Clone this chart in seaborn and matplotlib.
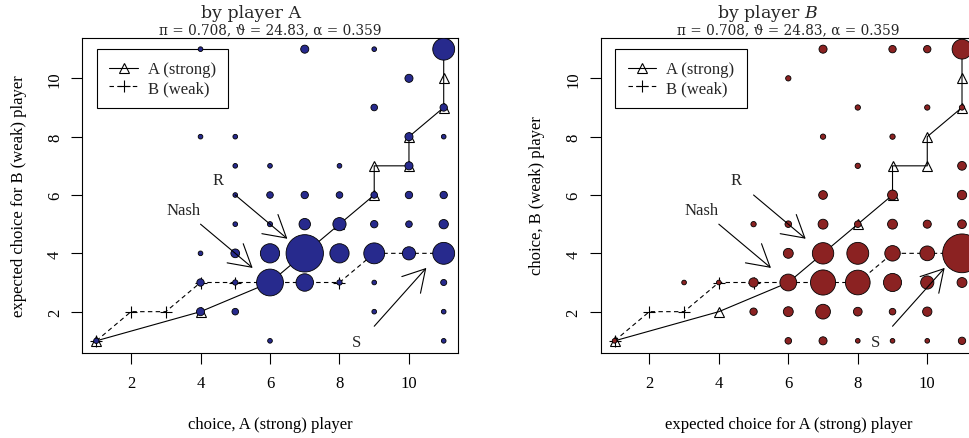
import numpy as np
import pandas as pd
import matplotlib
matplotlib.use("Agg")
import matplotlib.pyplot as plt
import seaborn as sns

sns.set_theme(style="ticks")
plt.rcParams['font.family'] = ['Liberation Serif', 'DejaVu Serif']
plt.rcParams['mathtext.fontset'] = 'dejavuserif'

# ---------------- data ----------------
# left panel (by player A): choice of A (x), expected choice for B (y), frequency
left_x = [4, 7, 9, 11,
          10,
          9, 11,
          4, 5, 10, 11,
          5, 6, 8, 10,
          5, 6, 7, 8, 9, 10, 11,
          5, 6, 7, 8, 9, 10, 11,
          4, 5, 6, 7, 8, 9, 10, 11,
          4, 5, 6, 7, 8, 9, 11,
          4, 5, 9, 11,
          1, 6, 11]
left_y = [11, 11, 11, 11,
          10,
          9, 9,
          8, 8, 8, 8,
          7, 7, 7, 7,
          6, 6, 6, 6, 6, 6, 6,
          5, 5, 5, 5, 5, 5, 5,
          4, 4, 4, 4, 4, 4, 4, 4,
          3, 3, 3, 3, 3, 3, 3,
          2, 2, 2, 2,
          1, 1, 1]
left_n = [1, 3, 1, 22,
          3,
          2, 2.5,
          1, 1, 3, 1,
          1, 1, 1, 3,
          1, 2, 2.5, 2, 2, 2.5, 2.5,
          1, 1.2, 6, 8, 2.5, 2, 4,
          1, 3.5, 17, 64, 17, 20, 8, 22,
          2.5, 1.3, 33, 14, 1.3, 1, 1.7,
          3, 2, 1, 1,
          1.3, 1, 1]

# right panel (by player B): expected choice for A (x), choice of B (y), frequency
right_x = [7, 9, 10, 11,
           6,
           8, 10, 11,
           7, 9,
           8, 11,
           7, 9, 11,
           5, 6, 7, 8, 9, 10, 11,
           6, 7, 8, 9, 10, 11,
           3, 4, 5, 6, 7, 8, 9, 10, 11,
           5, 6, 7, 8, 9, 10,
           1, 6, 7, 8, 9, 10, 11]
right_y = [11, 11, 11, 11,
           10,
           9, 9, 9,
           8, 8,
           7, 7,
           6, 6, 6,
           5, 5, 5, 5, 5, 5, 5,
           4, 4, 4, 4, 4, 4,
           3, 3, 3, 3, 3, 3, 3, 3, 3,
           2, 2, 2, 2, 2, 2,
           1, 1, 1, 1, 1, 1, 1]
right_n = [3, 2.5, 2.5, 18,
           1.3,
           1.3, 1.3, 1.3,
           1.3, 1.3,
           1.3, 3.5,
           3.5, 4.5, 4,
           1.3, 2, 4.5, 2, 4.5, 3, 3.5,
           4.5, 21, 22, 11, 10, 69,
           1, 1, 4, 13, 29, 28, 15, 8, 4.5,
           2.5, 4.5, 10, 3.5, 2, 4,
           1, 2, 3, 1, 1, 1, 2.5]

# best-response lines
lineA_x = [1, 4, 6, 7, 8, 9, 9, 10, 10, 11, 11, 11]
lineA_y = [1, 2, 3, 4, 5, 6, 7, 7, 8, 9, 10, 11]
lineB_x = [1, 2, 3, 4, 5, 6, 7, 8, 9, 10, 11]
lineB_y = [1, 2, 2, 3, 3, 3, 3, 3, 4, 4, 4]

ticks = [2, 4, 6, 8, 10]
subtitle = r"π = 0.708, ϑ = 24.83, α = 0.359"
annot_labels = ["R", "Nash", "S"]
annot_text_xy = [(4.5, 6.5), (3.5, 5.5), (8.5, 0.95)]
annot_from = [(5, 6), (4, 5), (9, 1.5)]
annot_to = [(6.5, 4.5), (5.5, 3.5), (10.5, 3.5)]

# ---------------- figure ----------------
W, H = 970, 439
fig = plt.figure(figsize=(W / 100, H / 100), dpi=100)
axL = fig.add_axes([82.4 / W, 1 - 353.5 / H, 375.2 / W, 315 / H])
axR = fig.add_axes([600.7 / W, 1 - 353.5 / H, 375.2 / W, 315 / H])

NMAX = 70
SMAX = 11.3 * NMAX

panels = [
    (axL, left_x, left_y, left_n, "#272a8d",
     "choice, A (strong) player", "expected choice for B (weak) player"),
    (axR, right_x, right_y, right_n, "#8b2222",
     "expected choice for A (strong) player", "choice, B (weak) player"),
]

for ax, xs, ys, ns, col, xl, yl in panels:
    df = pd.DataFrame({"x": xs, "y": ys, "n": ns})
    sns.scatterplot(data=df, x="x", y="y", size="n", sizes=(0, SMAX),
                    size_norm=(0, NMAX), color=col, edgecolor="black",
                    linewidth=0.6, legend=False, ax=ax, zorder=3)
    ax.plot(lineA_x, lineA_y, color="black", lw=0.8, marker="^", ms=7.5,
            mfc="none", mec="black", mew=0.8, zorder=2, label="A (strong)")
    ax.plot(lineB_x, lineB_y, color="black", lw=0.8, ls=(0, (4, 3)),
            marker="+", ms=8, mew=0.8, zorder=2, label="B (weak)")
    for lab, txy, a0, a1 in zip(annot_labels, annot_text_xy, annot_from, annot_to):
        ax.text(txy[0], txy[1], lab, ha="center", va="center", fontsize=12,
                zorder=4)
        ax.annotate("", xy=a1, xytext=a0,
                    arrowprops=dict(arrowstyle="->,head_length=1.56,head_width=0.9",
                                    lw=0.8, color="black", mutation_scale=10,
                                    shrinkA=0, shrinkB=0), zorder=4)
    ax.set_xlim(0.6, 11.4)
    ax.set_ylim(0.6, 11.4)
    ax.set_xticks(ticks)
    ax.set_yticks(ticks)
    ax.tick_params(axis="both", direction="out", length=8, width=0.8,
                   color="black", labelsize=12, labelcolor="black",
                   bottom=True, left=True)
    ax.tick_params(axis="x", pad=8)
    ax.tick_params(axis="y", pad=6, labelrotation=90)
    for t in ax.get_yticklabels():
        t.set_va("center")
    for s in ax.spines.values():
        s.set_color("black")
        s.set_linewidth(0.8)
        s.set_visible(True)
    ax.set_xlabel(xl, fontsize=12, color="black")
    ax.set_ylabel(yl, fontsize=12, color="black")
    ax.xaxis.set_label_coords(0.5, -(425 - 353.5) / 315)
    ax.xaxis.label.set_va("center")
    ax.yaxis.set_label_coords(-(82.4 - 19) / 375.2, 0.5)
    ax.yaxis.label.set_va("center")
    leg = ax.legend(loc="upper left", bbox_to_anchor=(0.0389, 0.9635),
                    borderaxespad=0, fontsize=12, frameon=True, fancybox=False,
                    edgecolor="black", framealpha=1, handlelength=1.7,
                    handletextpad=0.6, borderpad=0.75, labelspacing=0.15,
                    numpoints=1)
    leg.get_frame().set_linewidth(0.8)
    leg.set_zorder(2.5)

fig.text(251 / W, 1 - 18 / H, "by player A", ha="center", va="baseline",
         fontsize=12.5, family="DejaVu Serif")
fig.text(768 / W, 1 - 18 / H, r"by player $B$", ha="center", va="baseline",
         fontsize=12.5, family="DejaVu Serif")
fig.text(270 / W, 1 - 34.5 / H, subtitle, ha="center", va="baseline",
         fontsize=9.8, family="DejaVu Serif")
fig.text(788 / W, 1 - 34.5 / H, subtitle, ha="center", va="baseline",
         fontsize=9.8, family="DejaVu Serif")

fig.savefig("out.png", dpi=100)
